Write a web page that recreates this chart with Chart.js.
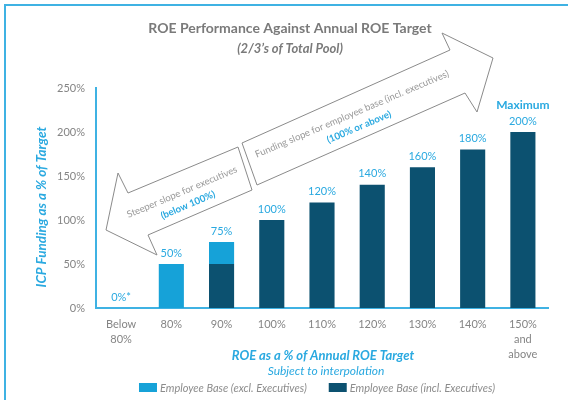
<!DOCTYPE html>
<html>
<head>
<meta charset="utf-8">
<script src="https://cdn.jsdelivr.net/npm/chart.js@4"></script>
<style>
html,body{margin:0;padding:0;background:#fff;}
#wrap{width:568px;height:400px;position:relative;}
</style>
</head>
<body>
<div id="wrap"><canvas id="c" width="568" height="400"></canvas></div>
<script>
// ---- data ----
const categories = [["Below","80%"],"80%","90%","100%","110%","120%","130%","140%",["150%","and","above"]];
const inclExecutives = [null,null,50,100,120,140,160,180,200];
const exclExecutives = [null,50,25,null,null,null,null,null,null];
const valueLabels = ["0%*","50%","75%","100%","120%","140%","160%","180%","200%"];
const yTicks = [0,50,100,150,200,250];
const seriesNames = ["Employee Base (excl. Executives)","Employee Base (incl. Executives)"];

const DARK = "#0c5170";
const LIGHT = "#16a2d8";
const BLUE_TXT = "#2aa9e0";
const GRAY = "#858585";
const FONT = "Lato, 'Open Sans', sans-serif";

const decor = {
  id: 'decor',
  beforeDraw(chart) {
    const ctx = chart.ctx;
    ctx.save();
    // frame lines (top & left)
    ctx.strokeStyle = "#3fb2e3";
    ctx.lineWidth = 2;
    ctx.beginPath();
    ctx.moveTo(5, 400); ctx.lineTo(5, 5); ctx.lineTo(568, 5);
    ctx.stroke();

    // arrows
    ctx.lineWidth = 1;
    ctx.strokeStyle = "#8a8a8a";
    ctx.fillStyle = "#fff";
    const up = [[257,185],[242,143],[450,50],[442,33],[493,58],[477,112],[465,93]];
    const down = [[238,147],[252,190],[148,235],[157,255],[106,230],[118,173],[128,193]];
    [up, down].forEach(p => {
      ctx.beginPath();
      p.forEach((q,i) => i ? ctx.lineTo(q[0],q[1]) : ctx.moveTo(q[0],q[1]));
      ctx.closePath();
      ctx.fill(); ctx.stroke();
    });

    // arrow texts
    const ang = -23 * Math.PI / 180;
    function rtext(t, x, y, font, color) {
      ctx.save();
      ctx.translate(x, y); ctx.rotate(ang);
      ctx.font = font; ctx.fillStyle = color;
      ctx.textAlign = 'center'; ctx.textBaseline = 'middle';
      ctx.fillText(t, 0, 0);
      ctx.restore();
    }
    rtext("Funding slope for employee base (incl. executives)", 352, 114, "9.6px " + FONT, "#999");
    rtext("(100% or above)", 359, 127, "bold 9.6px " + FONT, BLUE_TXT);
    rtext("Steeper slope for executives", 182, 192, "9.6px " + FONT, "#999");
    rtext("(below 100%)", 188, 205, "bold 9.6px " + FONT, BLUE_TXT);

    // title
    ctx.fillStyle = "#7a7a7a";
    ctx.textAlign = 'center'; ctx.textBaseline = 'middle';
    ctx.font = "bold 14px " + FONT;
    ctx.fillText("ROE Performance Against Annual ROE Target", 290, 28);
    ctx.font = "italic bold 13px " + FONT;
    ctx.fillText("(2/3\u2019s of Total Pool)", 290, 49);
    ctx.restore();
  },
  afterDraw(chart) {
    const ctx = chart.ctx;
    const x = chart.scales.x, y = chart.scales.y;
    ctx.save();
    ctx.textAlign = 'center'; ctx.textBaseline = 'middle';
    // value labels
    for (let i = 0; i < categories.length; i++) {
      const total = (inclExecutives[i] || 0) + (exclExecutives[i] || 0);
      const px = x.getPixelForValue(i);
      const py = y.getPixelForValue(total);
      ctx.fillStyle = BLUE_TXT;
      ctx.font = "11px " + FONT;
      ctx.fillText(valueLabels[i], px, py - 11);
      if (i === categories.length - 1) {
        ctx.font = "bold 12px " + FONT;
        ctx.fillText("Maximum", px, py - 27);
      }
    }
    // y title
    ctx.save();
    ctx.translate(42, (y.top + y.bottom) / 2 + 9);
    ctx.rotate(-Math.PI / 2);
    ctx.font = "italic bold 13.5px " + FONT;
    ctx.fillStyle = BLUE_TXT;
    ctx.fillText("ICP Funding as a % of Target", 0, 0);
    ctx.restore();
    // x title
    const cx = (x.left + x.right) / 2 + 1;
    ctx.fillStyle = BLUE_TXT;
    ctx.font = "italic bold 13px " + FONT;
    ctx.fillText("ROE as a % of Annual ROE Target", cx, 356);
    ctx.font = "italic 12px " + FONT;
    ctx.fillText("Subject to interpolation", cx + 3, 371);
    // legend
    ctx.font = "italic 11px " + FONT;
    const colors = [LIGHT, DARK];
    const bw = 18, bh = 9, gap = 3, between = 22;
    const widths = seriesNames.map(s => bw + gap + ctx.measureText(s).width);
    const total = widths[0] + widths[1] + between;
    let lx = 317 - total / 2;
    ctx.textAlign = 'left';
    seriesNames.forEach((s, k) => {
      ctx.fillStyle = colors[k];
      ctx.fillRect(lx, 383, bw, bh);
      ctx.fillStyle = "#8c8c8c";
      ctx.fillText(s, lx + bw + gap, 388);
      lx += widths[k] + between;
    });
    ctx.restore();
  }
};

new Chart(document.getElementById('c'), {
  type: 'bar',
  data: {
    labels: categories,
    datasets: [
      { label: seriesNames[1], data: inclExecutives, backgroundColor: DARK, borderWidth: 0 },
      { label: seriesNames[0], data: exclExecutives, backgroundColor: LIGHT, borderWidth: 0 }
    ]
  },
  options: {
    responsive: false,
    animation: false,
    events: [],
    layout: { padding: { top: 88, right: 20, bottom: 0, left: 0 } },
    plugins: { legend: { display: false }, title: { display: false }, tooltip: { enabled: false } },
    datasets: { bar: { categoryPercentage: 1, barPercentage: 0.5 } },
    scales: {
      x: {
        stacked: true,
        grid: { display: false, drawTicks: false },
        border: { display: true, color: "#3fb2e3", width: 2 },
        ticks: { color: GRAY, font: { family: FONT, size: 11, lineHeight: 1.35 }, padding: 9, maxRotation: 0, autoSkip: false },
        afterFit(s) { s.height = 92; }
      },
      y: {
        stacked: true,
        min: 0, max: 250,
        afterBuildTicks(s) { s.ticks = yTicks.map(v => ({ value: v })); },
        grid: { display: false, drawTicks: false },
        border: { display: true, color: "#3fb2e3", width: 2 },
        ticks: { color: GRAY, font: { family: FONT, size: 11 }, padding: 11, callback: v => v + '%' },
        afterFit(s) { s.width = 96; }
      }
    }
  },
  plugins: [decor]
});
</script>
</body>
</html>
